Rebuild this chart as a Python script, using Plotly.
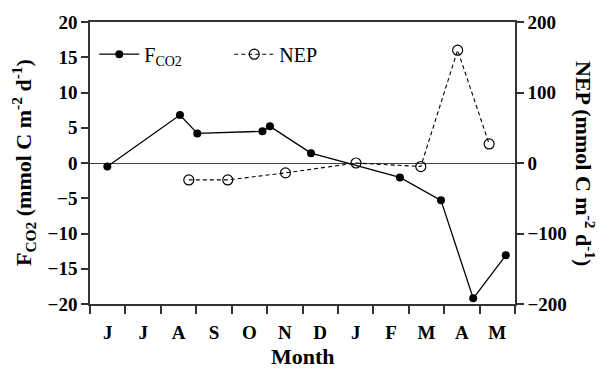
import plotly.graph_objects as go

months = ["J", "J", "A", "S", "O", "N", "D", "J", "F", "M", "A", "M"]
fco2_x = [0.49, 2.54, 3.03, 4.87, 5.08, 6.24, 8.75, 9.91, 10.82, 11.74]
fco2_y = [-0.5, 6.8, 4.2, 4.5, 5.2, 1.4, -2.05, -5.3, -19.2, -13.1]
nep_x = [2.79, 3.89, 5.52, 7.51, 9.34, 10.38, 11.27]
nep_y = [-24, -24, -14, 0, -5, 160, 27]

FONT = "Liberation Serif, Times New Roman, serif"

fig = go.Figure()
fig.add_trace(go.Scatter(
    x=fco2_x, y=fco2_y, mode="lines+markers", name="F<sub>CO2</sub>",
    line=dict(color="black", width=1.3),
    marker=dict(symbol="circle", size=8, color="black"),
))
fig.add_trace(go.Scatter(
    x=nep_x, y=nep_y, mode="lines+markers", name="NEP", yaxis="y2",
    line=dict(color="black", width=1.1, dash="4px,3px"),
    marker=dict(symbol="circle-open", size=10, color="black", line=dict(width=1.2)),
))

fig.update_layout(
    width=601, height=369,
    margin=dict(l=90, r=86, t=20, b=65),
    paper_bgcolor="white", plot_bgcolor="white",
    font=dict(family=FONT, color="black", size=16),
    showlegend=True,
    legend=dict(orientation="h", x=0.01, y=0.955, xanchor="left", yanchor="top",
                bgcolor="rgba(0,0,0,0)", font=dict(size=20, family=FONT),
                itemwidth=40, entrywidth=80),
    xaxis=dict(
        range=[0, 12], tickvals=[i + 0.5 for i in range(12)], ticktext=months,
        ticks="", ticklabelstandoff=10,
        tickfont=dict(size=19, family=FONT, weight="bold"),
        minor=dict(tick0=0, dtick=1, ticks="outside", ticklen=8, tickcolor="#333", tickwidth=1.5),
        showline=True, linecolor="#333", linewidth=1.5, mirror=True,
        showgrid=False, zeroline=False,
    ),
    yaxis=dict(
        range=[-20, 20], tickvals=[-20, -15, -10, -5, 0, 5, 10, 15, 20],
        ticks="outside", ticklen=7, tickcolor="#333", tickwidth=1.5,
        tickfont=dict(size=19, family=FONT, weight="bold"),
        showline=True, linecolor="#333", linewidth=1.5,
        showgrid=False, zeroline=True, zerolinecolor="#444", zerolinewidth=1,
    ),
    yaxis2=dict(
        range=[-200, 200], tickvals=[-200, -100, 0, 100, 200],
        overlaying="y", side="right",
        ticks="outside", ticklen=7, tickcolor="#333", tickwidth=1.5,
        tickfont=dict(size=19, family=FONT, weight="bold"),
        showline=True, linecolor="#333", linewidth=1.5,
        showgrid=False, zeroline=False,
    ),
    annotations=[
        dict(text="<b>F<sub>CO2</sub> (mmol C m<sup>-2</sup> d<sup>-1</sup>)</b>",
             xref="paper", yref="paper", x=0.0, y=0.5, xshift=-67, textangle=-90,
             xanchor="center", yanchor="middle",
             showarrow=False, font=dict(size=22, family=FONT, color="black")),
        dict(text="<b>NEP (mmol C m<sup>-2</sup> d<sup>-1</sup>)</b>",
             xref="paper", yref="paper", x=1.0, y=0.5, xshift=70, textangle=90,
             xanchor="center", yanchor="middle",
             showarrow=False, font=dict(size=22, family=FONT, color="black")),
        dict(text="<b>Month</b>",
             xref="paper", yref="paper", x=0.5, y=0.0, yshift=-52,
             xanchor="center", yanchor="middle",
             showarrow=False, font=dict(size=22, family=FONT, color="black")),
    ],
)

fig.write_html("out.html")
